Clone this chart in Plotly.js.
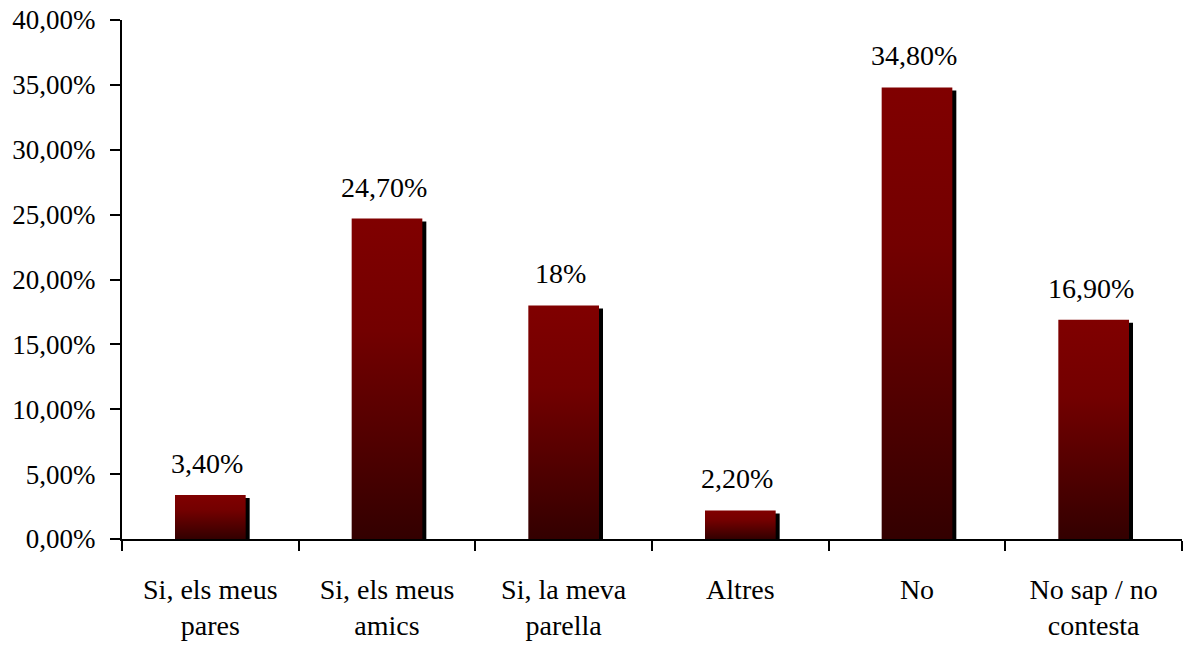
<!DOCTYPE html>
<html>
<head>
<meta charset="utf-8">
<script src="https://cdn.plot.ly/plotly-3.0.1.min.js"></script>
<style>
  html, body { margin: 0; padding: 0; background: #ffffff; }
  #chart { width: 1184px; height: 648px; }
</style>
</head>
<body>
<div id="chart"></div>
<script>
// ---- data ----
const categories = [
  "Si, els meus<br>pares",
  "Si, els meus<br>amics",
  "Si, la meva<br>parella",
  "Altres",
  "No",
  "No sap / no<br>contesta"
];
const values = [3.4, 24.7, 18, 2.2, 34.8, 16.9];
const valueLabels = ["3,40%", "24,70%", "18%", "2,20%", "34,80%", "16,90%"];

// ---- styling ----
const FONT = "Liberation Serif, Times New Roman, serif";
const BAR_WIDTH = 0.4;
const PX_PER_CAT = 1060 / 6;
const PX_PER_UNIT = 519 / 40;
const SHADOW_DX = 4, SHADOW_DY = 3;

const shadow = {
  type: "bar",
  x: categories,
  y: values,
  base: -SHADOW_DY / PX_PER_UNIT,
  width: BAR_WIDTH,
  offset: -BAR_WIDTH / 2 + SHADOW_DX / PX_PER_CAT,
  marker: { color: "#000000", line: { width: 0 } },
  hoverinfo: "skip",
  showlegend: false
};

const bars = {
  type: "bar",
  x: categories,
  y: values,
  width: BAR_WIDTH,
  offset: -BAR_WIDTH / 2,
  marker: { color: "#800000", line: { width: 0 } },
  showlegend: false
};

const annotations = categories.map((c, i) => ({
  x: c,
  y: values[i],
  xref: "x",
  yref: "y",
  text: valueLabels[i],
  showarrow: false,
  yanchor: "bottom",
  xanchor: "center",
  yshift: 14,
  xshift: -3,
  font: { family: FONT, size: 28, color: "#000000" }
}));

const layout = {
  width: 1184,
  height: 648,
  margin: { l: 122, r: 2, t: 20, b: 109 },
  paper_bgcolor: "#ffffff",
  plot_bgcolor: "#ffffff",
  barmode: "overlay",
  separators: ", ",
  font: { family: FONT, size: 27, color: "#000000" },
  xaxis: {
    type: "category",
    showline: true,
    linecolor: "#000000",
    linewidth: 2,
    ticks: "outside",
    tickson: "boundaries",
    ticklen: 10,
    tickwidth: 2,
    tickcolor: "#000000",
    ticklabelstandoff: 24,
    showgrid: false,
    zeroline: false,
    tickfont: { family: FONT, size: 28, color: "#000000" }
  },
  yaxis: {
    range: [0, 40],
    dtick: 5,
    tick0: 0,
    tickformat: ".2f",
    ticksuffix: "%",
    showline: true,
    linecolor: "#000000",
    linewidth: 2,
    ticks: "outside",
    ticklen: 10,
    tickwidth: 2,
    tickcolor: "#000000",
    ticklabelstandoff: 9,
    showgrid: false,
    zeroline: false,
    tickfont: { family: FONT, size: 27, color: "#000000" }
  },
  annotations: annotations
};

function applyGradient(gd) {
  const svg = gd.querySelector("svg.main-svg");
  if (!svg) return;
  let defs = svg.querySelector("defs");
  if (!defs) {
    defs = document.createElementNS("http://www.w3.org/2000/svg", "defs");
    svg.insertBefore(defs, svg.firstChild);
  }
  if (!svg.querySelector("#barGrad")) {
    const lg = document.createElementNS("http://www.w3.org/2000/svg", "linearGradient");
    lg.setAttribute("id", "barGrad");
    lg.setAttribute("x1", "0"); lg.setAttribute("y1", "0");
    lg.setAttribute("x2", "0"); lg.setAttribute("y2", "1");
    [["0", "#800000"], ["0.35", "#730000"], ["1", "#330000"]].forEach(([o, c]) => {
      const s = document.createElementNS("http://www.w3.org/2000/svg", "stop");
      s.setAttribute("offset", o);
      s.setAttribute("stop-color", c);
      lg.appendChild(s);
    });
    defs.appendChild(lg);
  }
  const traces = gd.querySelectorAll("g.trace.bars");
  if (traces.length > 1) {
    traces[1].querySelectorAll("path").forEach(p => {
      p.style.fill = "url(#barGrad)";
    });
  }
}

const gd = document.getElementById("chart");
Plotly.newPlot(gd, [shadow, bars], layout, { displayModeBar: false, staticPlot: true })
  .then(() => applyGradient(gd));
</script>
</body>
</html>
